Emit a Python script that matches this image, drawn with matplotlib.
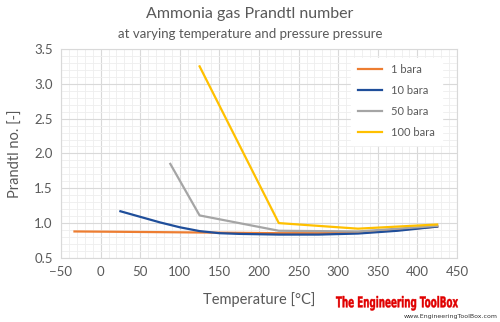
import matplotlib.pyplot as plt
from matplotlib.ticker import MultipleLocator
from matplotlib.textpath import TextPath
from matplotlib.patches import PathPatch
from matplotlib.font_manager import FontProperties
from matplotlib.transforms import Affine2D

# Data
t_1bar = [-33, 25, 75, 125, 175, 225, 275, 325, 375, 425]
pr_1bar = [0.88, 0.875, 0.87, 0.865, 0.86, 0.855, 0.855, 0.86, 0.90, 0.95]

t_10bar = [25, 50, 75, 100, 125, 150, 175, 225, 275, 325, 375, 425]
pr_10bar = [1.17, 1.09, 1.01, 0.94, 0.885, 0.855, 0.845, 0.835, 0.835, 0.85, 0.89, 0.95]

t_50bar = [88, 125, 225, 325, 425]
pr_50bar = [1.85, 1.11, 0.89, 0.88, 0.96]

t_100bar = [125, 225, 325, 425]
pr_100bar = [3.25, 1.0, 0.92, 0.98]

series = [
    (t_1bar, pr_1bar, "1 bara", "#ED7D31"),
    (t_10bar, pr_10bar, "10 bara", "#1F4E9A"),
    (t_50bar, pr_50bar, "50 bara", "#A5A5A5"),
    (t_100bar, pr_100bar, "100 bara", "#FFC000"),
]

plt.rcParams['font.family'] = ['Lato', 'DejaVu Sans']
txt = "#595959"

fig = plt.figure(figsize=(5, 3.22), dpi=100)
ax = fig.add_axes([0.122, 0.199, 0.792, 0.649])

for t, pr, lab, col in series:
    ax.plot(t, pr, color=col, lw=1.6, label=lab)

ax.set_xlim(-50, 450)
ax.set_ylim(0.5, 3.5)
ax.xaxis.set_major_locator(MultipleLocator(50))
ax.xaxis.set_minor_locator(MultipleLocator(10))
ax.yaxis.set_major_locator(MultipleLocator(0.5))
ax.yaxis.set_minor_locator(MultipleLocator(0.1))
ax.yaxis.set_major_formatter(plt.FormatStrFormatter('%.1f'))
ax.grid(which='major', color='#D9D9D9', lw=0.8)
ax.grid(which='minor', color='#EEEEEE', lw=0.6)
ax.set_axisbelow(True)
for s in ax.spines.values():
    s.set_color('#D9D9D9')
ax.tick_params(which='both', length=0, colors=txt, labelsize=9.5, pad=6)

ax.set_xlabel("Temperature [°C]", color=txt, fontsize=10.5, labelpad=10)
ax.set_ylabel("Prandtl no. [-]", color=txt, fontsize=10.5, labelpad=8)

leg = ax.legend(loc='upper right', bbox_to_anchor=(0.975, 0.985), frameon=True,
                fontsize=8, handlelength=2.2, labelspacing=0.9, borderpad=0.6)
leg.get_frame().set_edgecolor('white')
leg.get_frame().set_facecolor('white')
leg.get_frame().set_alpha(1)
for tx in leg.get_texts():
    tx.set_color(txt)

fig.text(0.5, 0.955, "Ammonia gas Prandtl number", ha='center', va='center',
         color=txt, fontsize=11.5)
fig.text(0.5, 0.895, "at varying temperature and pressure pressure", ha='center',
         va='center', color=txt, fontsize=9.5)

# watermark: bold text squeezed horizontally, placed in pixel coordinates
tp = TextPath((0, 0), "The Engineering ToolBox", size=13,
              prop=FontProperties(family='DejaVu Sans', weight='bold'))
bb = tp.get_extents()
sx = (458 - 336) / bb.width
sy = 14.5 / bb.height
tr = Affine2D().translate(-bb.x0, -bb.y0).scale(sx, sy).translate(336, 322 - 310.5)
wm = PathPatch(tr.transform_path(tp), color='#E00000', lw=0.3)
wm.set_transform(Affine2D())
wm.set_figure(fig)
fig.patches.append(wm)
fig.text(0.995, 0.018, "www.EngineeringToolBox.com", ha='right', va='center',
         color='#333333', fontsize=4.5, family='DejaVu Sans')

plt.savefig("out.png", dpi=100)
